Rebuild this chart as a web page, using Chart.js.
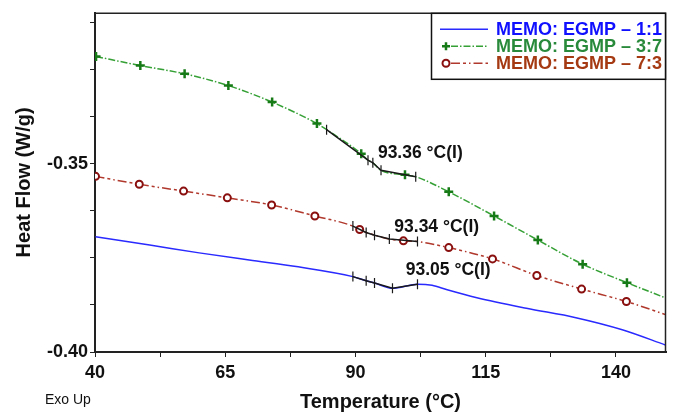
<!DOCTYPE html>
<html>
<head>
<meta charset="utf-8">
<script src="https://cdn.jsdelivr.net/npm/chart.js@4/dist/chart.umd.min.js"></script>
<style>
  html, body { margin: 0; padding: 0; background: #fff; }
  #wrap { position: relative; width: 673px; height: 414px; }
</style>
</head>
<body>
<div id="wrap"><canvas id="dscChart" width="673" height="414"></canvas></div>
<script>
// MEMO: EGMP 1:1
const blueTemps = [40.1, 50.5, 60.0, 69.6, 79.0, 89.5, 92.05, 93.65, 97.1, 101.9, 104.7, 107.6, 113.3, 122.8, 132.3, 141.2, 149.6];
const blueFlow = [-0.3694, -0.3716, -0.3737, -0.3756, -0.3774, -0.38, -0.3811, -0.3817, -0.3831, -0.382, -0.3823, -0.3835, -0.3856, -0.3884, -0.3909, -0.3941, -0.3982];

// MEMO: EGMP 3:7
const greenTemps = [40.2, 48.7, 57.2, 65.6, 74.0, 82.6, 84.45, 91.1, 92.4, 93.33, 94.9, 99.5, 101.56, 107.9, 116.6, 125.0, 133.6, 142.1, 149.6];
const greenFlow = [-0.3216, -0.324, -0.3262, -0.3293, -0.3337, -0.3394, -0.341, -0.3474, -0.3491, -0.3498, -0.3518, -0.353, -0.3535, -0.3575, -0.3639, -0.3703, -0.3767, -0.3816, -0.3857];
const greenMarkers = [40.2, 48.7, 57.2, 65.6, 74.0, 82.6, 91.1, 99.5, 107.9, 116.6, 125.0, 133.6, 142.1];

// MEMO: EGMP 7:3
const redTemps = [40.1, 48.5, 57.0, 65.4, 73.9, 82.2, 89.5, 90.8, 92.05, 93.65, 96.5, 99.2, 101.9, 107.9, 116.3, 124.8, 133.4, 142.0, 149.6];
const redFlow = [-0.3534, -0.3555, -0.3573, -0.3591, -0.361, -0.3639, -0.3666, -0.3675, -0.3683, -0.369, -0.37, -0.3705, -0.3707, -0.3723, -0.3753, -0.3797, -0.3833, -0.3866, -0.3901];
const redMarkers = [40.1, 48.5, 57.0, 65.4, 73.9, 82.2, 90.8, 99.2, 107.9, 116.3, 124.8, 133.4, 142.0];

// glass transition analysis segments
const blueStepTemps = [89.5, 92.05, 93.65, 97.1, 101.9];
const blueStepFlow = [-0.38, -0.3811, -0.3817, -0.3831, -0.382];
const greenStepTemps = [84.45, 92.4, 93.33, 94.9, 101.56];
const greenStepFlow = [-0.341, -0.3491, -0.3498, -0.3518, -0.3535];
const redStepTemps = [89.5, 92.05, 93.65, 96.5, 101.9];
const redStepFlow = [-0.3666, -0.3683, -0.369, -0.37, -0.3707];

const onsetLabels = ["93.36 °C(I)", "93.34 °C(I)", "93.05 °C(I)"];
const onsetTemps = [94.3, 97.45, 99.65];
const onsetFlow = [-0.3473, -0.3668, -0.3782];

// axis ticks (labels shown only on the major ones)
const tempTicks = [40, 52.5, 65, 77.5, 90, 102.5, 115, 127.5, 140];
const tempLabels = ["40", "", "65", "", "90", "", "115", "", "140"];
const flowTicks = [-0.4, -0.3875, -0.375, -0.3625, -0.35, -0.3375, -0.325, -0.3125];
const flowLabels = ["-0.40", "", "", "", "-0.35", "", "", ""];

const seriesLabels = ["MEMO: EGMP \u2013 1:1", "MEMO: EGMP \u2013 3:7", "MEMO: EGMP \u2013 7:3"];
const legendTextColors = ["#1010ff", "#2a8a3c", "#a53a12"];

const FONT = "'Liberation Sans', Arial, sans-serif";

function toPoints(xs, ys) {
  return xs.map((x, i) => ({ x: x, y: ys[i] }));
}

function stepDataset(xs, ys) {
  return {
    data: toPoints(xs, ys),
    borderColor: "#1a1a1a",
    borderWidth: 1.5,
    pointStyle: "line",
    rotation: 90,
    pointRadius: 5,
    pointBorderColor: "#1a1a1a",
    pointBorderWidth: 1.2,
    tension: 0,
    order: 0,
    isStep: true,
  };
}

function drawMarker(ctx, style, x, y) {
  ctx.save();
  ctx.setLineDash([]);
  if (style === "cross") {
    ctx.strokeStyle = "#167a16";
    ctx.lineWidth = 2.5;
    ctx.beginPath();
    ctx.moveTo(x - 4, y);
    ctx.lineTo(x + 4, y);
    ctx.moveTo(x, y - 4);
    ctx.lineTo(x, y + 4);
    ctx.stroke();
  } else if (style === "circle") {
    ctx.strokeStyle = "#8a1010";
    ctx.fillStyle = "#fff";
    ctx.lineWidth = 2;
    ctx.beginPath();
    ctx.arc(x, y, 3.5, 0, Math.PI * 2);
    ctx.fill();
    ctx.stroke();
  }
  ctx.restore();
}

const dscPlugin = {
  id: "dscExtras",
  afterDatasetsDraw(chart) {
    const { ctx, scales } = chart;
    ctx.save();
    ctx.fillStyle = "#111";
    ctx.font = "bold 17.5px " + FONT;
    ctx.textAlign = "left";
    ctx.textBaseline = "middle";
    onsetLabels.forEach((text, i) => {
      ctx.fillText(text, scales.x.getPixelForValue(onsetTemps[i]), scales.y.getPixelForValue(onsetFlow[i]));
    });
    ctx.restore();
  },
  afterDraw(chart) {
    const { ctx, chartArea } = chart;
    ctx.save();
    // frame
    ctx.strokeStyle = "#222";
    ctx.lineWidth = 1.5;
    ctx.beginPath();
    ctx.moveTo(chartArea.left, chartArea.top + 0.5);
    ctx.lineTo(chartArea.right - 0.5, chartArea.top + 0.5);
    ctx.lineTo(chartArea.right - 0.5, chartArea.bottom);
    ctx.stroke();

    // legend box
    const boxLeft = 431;
    const boxTop = chartArea.top;
    const boxRight = chartArea.right;
    const rowH = 17;
    ctx.fillStyle = "#fff";
    ctx.fillRect(boxLeft, boxTop, boxRight - boxLeft, 67);
    ctx.strokeStyle = "#111";
    ctx.lineWidth = 1.5;
    ctx.strokeRect(boxLeft + 0.5, boxTop + 0.5, boxRight - boxLeft - 1, 66);

    chart.data.datasets.filter((d) => !d.isStep).forEach((ds, i) => {
      const y = boxTop + 16.5 + i * rowH;
      ctx.save();
      ctx.strokeStyle = ds.borderColor;
      ctx.lineWidth = 1.5;
      ctx.setLineDash(ds.borderDash || []);
      ctx.beginPath();
      ctx.moveTo(ds.legendMarker ? 451 : 440, y);
      ctx.lineTo(488, y);
      ctx.stroke();
      ctx.restore();
      if (ds.legendMarker) drawMarker(ctx, ds.legendMarker, 446, y);
      ctx.fillStyle = legendTextColors[i];
      ctx.font = "bold 18px " + FONT;
      ctx.textAlign = "left";
      ctx.textBaseline = "middle";
      ctx.fillText(ds.label, 496, y + 0.5);
    });

    ctx.fillStyle = "#111";
    ctx.font = "14px " + FONT;
    ctx.textAlign = "left";
    ctx.textBaseline = "middle";
    ctx.fillText("Exo Up", 45, 400);
    ctx.restore();
  },
};

const ctx = document.getElementById("dscChart").getContext("2d");

// eslint-disable-next-line no-undef
const dscChart = new Chart(ctx, {
  type: "line",
  data: {
    datasets: [
      stepDataset(blueStepTemps, blueStepFlow),
      stepDataset(greenStepTemps, greenStepFlow),
      stepDataset(redStepTemps, redStepFlow),
      {
        label: seriesLabels[0],
        data: toPoints(blueTemps, blueFlow),
        borderColor: "#2a2aff",
        borderWidth: 1.5,
        pointRadius: 0,
        cubicInterpolationMode: "monotone",
        order: 1,
      },
      {
        label: seriesLabels[1],
        data: toPoints(greenTemps, greenFlow),
        borderColor: "#35a035",
        borderWidth: 1.5,
        borderDash: [7, 2, 1.5, 2],
        pointStyle: "cross",
        pointRadius: (c) => (c.raw && greenMarkers.includes(c.raw.x) ? 4.5 : 0),
        pointBorderColor: "#167a16",
        pointBorderWidth: 2.5,
        cubicInterpolationMode: "monotone",
        legendMarker: "cross",
        order: 1,
      },
      {
        label: seriesLabels[2],
        data: toPoints(redTemps, redFlow),
        borderColor: "#b0382c",
        borderWidth: 1.5,
        borderDash: [9, 3, 3, 3, 1.5, 3],
        pointStyle: "circle",
        pointRadius: (c) => (c.raw && redMarkers.includes(c.raw.x) ? 3.5 : 0),
        pointBorderColor: "#8a1010",
        pointBackgroundColor: "#fff",
        pointBorderWidth: 2,
        cubicInterpolationMode: "monotone",
        legendMarker: "circle",
        order: 1,
      },
    ],
  },
  options: {
    responsive: false,
    animation: false,
    devicePixelRatio: 1,
    layout: {
      padding: { left: 0, right: 2, top: 11, bottom: 0 },
    },
    plugins: {
      legend: { display: false },
      tooltip: { enabled: false },
    },
    scales: {
      x: {
        type: "linear",
        min: 40,
        max: 149.6,
        afterBuildTicks: (scale) => {
          scale.ticks = tempTicks.map((v) => ({ value: v }));
        },
        afterFit: (scale) => {
          scale.height = 62;
        },
        border: { display: true, color: "#222", width: 2 },
        grid: { drawOnChartArea: false, drawTicks: true, tickLength: 5, color: "#222" },
        ticks: {
          autoSkip: false,
          maxRotation: 0,
          padding: 5,
          color: "#111",
          font: { family: FONT, size: 18, weight: "bold" },
          callback: (v, i) => tempLabels[i],
        },
        title: {
          display: true,
          text: "Temperature (°C)",
          color: "#111",
          padding: { top: 0, bottom: 0 },
          font: { family: FONT, size: 20, weight: "bold", lineHeight: 1.2 },
        },
      },
      y: {
        min: -0.4,
        max: -0.31,
        afterBuildTicks: (scale) => {
          scale.ticks = flowTicks.map((v) => ({ value: v }));
        },
        afterFit: (scale) => {
          scale.width = 95;
        },
        border: { display: true, color: "#222", width: 2 },
        grid: { drawOnChartArea: false, drawTicks: true, tickLength: 5, color: "#222" },
        ticks: {
          autoSkip: false,
          padding: 2,
          color: "#111",
          font: { family: FONT, size: 18, weight: "bold" },
          callback: (v, i) => flowLabels[i],
        },
        title: {
          display: true,
          text: "Heat Flow (W/g)",
          color: "#111",
          padding: { top: 12, bottom: 0 },
          font: { family: FONT, size: 20, weight: "bold", lineHeight: 1.2 },
        },
      },
    },
  },
  plugins: [dscPlugin],
});
</script>
</body>
</html>
